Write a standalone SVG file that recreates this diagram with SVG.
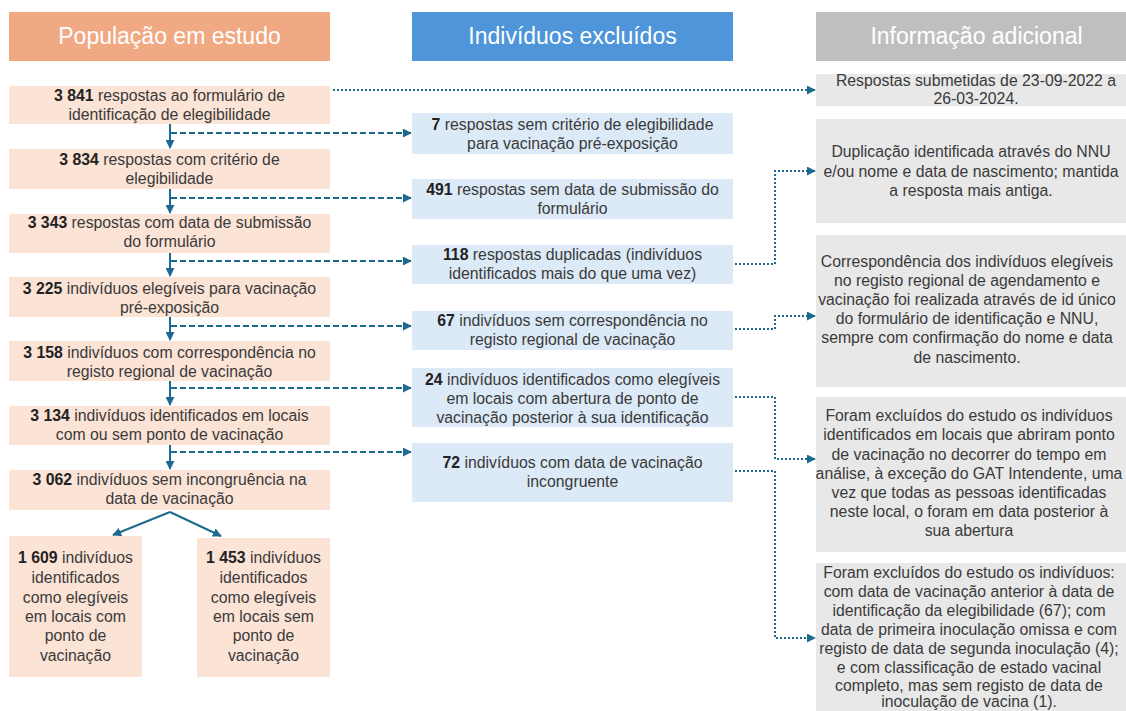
<svg xmlns="http://www.w3.org/2000/svg" width="1126" height="711" viewBox="0 0 1126 711">
<defs>
<style>
.hdr{font-family:"Liberation Sans",Arial,sans-serif;font-size:23px;fill:#ffffff;text-anchor:middle}
.t{font-family:"Liberation Sans",Arial,sans-serif;font-size:15.8px;fill:#3a3a3a;text-anchor:middle}
.b{font-weight:bold;fill:#222}
.pop{fill:#FBE3D6}
.exc{fill:#DCE9F6}
.inf{fill:#E8E8E8}
.solid{stroke:#1E6A8D;stroke-width:2;fill:none}
.dash{stroke:#1E6A8D;stroke-width:2;fill:none;stroke-dasharray:6 3}
.dot{stroke:#1E6A8D;stroke-width:2;fill:none;stroke-dasharray:2 2}
</style>
<marker id="ah" viewBox="0 0 10 10" refX="9" refY="5" markerWidth="9" markerHeight="9" markerUnits="userSpaceOnUse" orient="auto">
<path d="M0,0 L10,5 L0,10 z" fill="#1E6A8D"/>
</marker>
</defs>
<rect width="1126" height="711" fill="#ffffff"/>

<g id="hdr-pop"><rect x="9" y="12" width="321" height="49" fill="#F1A983"/><text class="hdr" x="169.5" y="44">População em estudo</text></g>
<g id="hdr-exc"><rect x="412" y="12" width="321" height="49" fill="#4E95D9"/><text class="hdr" x="572.5" y="44">Indivíduos excluídos</text></g>
<g id="hdr-inf"><rect x="816" y="12" width="321" height="49" fill="#BFBFBF"/><text class="hdr" x="976.5" y="44">Informação adicional</text></g>

<g id="p1"><rect class="pop" x="9" y="86" width="321" height="38"/><text class="t" x="169.5" y="101"><tspan class="b">3 841</tspan> respostas ao formulário de</text><text class="t" x="169.5" y="120">identificação de elegibilidade</text></g>
<g id="p2"><rect class="pop" x="9" y="149" width="321" height="40"/><text class="t" x="169.5" y="165"><tspan class="b">3 834</tspan> respostas com critério de</text><text class="t" x="169.5" y="184">elegibilidade</text></g>
<g id="p3"><rect class="pop" x="9" y="214" width="321" height="39"/><text class="t" x="169.5" y="228"><tspan class="b">3 343</tspan> respostas com data de submissão</text><text class="t" x="169.5" y="247">do formulário</text></g>
<g id="p4"><rect class="pop" x="9" y="277" width="321" height="40"/><text class="t" x="169.5" y="294"><tspan class="b">3 225</tspan> indivíduos elegíveis  para vacinação</text><text class="t" x="169.5" y="313">pré-exposição</text></g>
<g id="p5"><rect class="pop" x="9" y="341" width="321" height="40"/><text class="t" x="169.5" y="358"><tspan class="b">3 158</tspan> indivíduos com correspondência no</text><text class="t" x="169.5" y="377">registo regional de vacinação</text></g>
<g id="p6"><rect class="pop" x="9" y="406" width="321" height="39"/><text class="t" x="169.5" y="421"><tspan class="b">3 134</tspan> indivíduos identificados em locais</text><text class="t" x="169.5" y="440">com ou sem ponto de vacinação</text></g>
<g id="p7"><rect class="pop" x="9" y="470" width="321" height="40"/><text class="t" x="169.5" y="485"><tspan class="b">3 062</tspan> indivíduos sem incongruência na</text><text class="t" x="169.5" y="504">data de vacinação</text></g>
<g id="p8"><rect class="pop" x="9" y="536" width="133" height="141"/>
<text class="t" x="75.5" y="563"><tspan class="b">1 609</tspan> indivíduos</text><text class="t" x="75.5" y="583">identificados</text><text class="t" x="75.5" y="603">como elegíveis</text><text class="t" x="75.5" y="622">em locais com</text><text class="t" x="75.5" y="641">ponto de</text><text class="t" x="75.5" y="661">vacinação</text></g>
<g id="p9"><rect class="pop" x="197" y="538" width="133" height="139"/>
<text class="t" x="263.5" y="563"><tspan class="b">1 453</tspan> indivíduos</text><text class="t" x="263.5" y="583">identificados</text><text class="t" x="263.5" y="603">como elegíveis</text><text class="t" x="263.5" y="622">em locais sem</text><text class="t" x="263.5" y="641">ponto de</text><text class="t" x="263.5" y="661">vacinação</text></g>

<g id="e1"><rect class="exc" x="412" y="113" width="321" height="41"/><text class="t" x="572.5" y="130"><tspan class="b">7</tspan> respostas sem critério de elegibilidade</text><text class="t" x="572.5" y="149">para vacinação pré-exposição</text></g>
<g id="e2"><rect class="exc" x="412" y="179" width="321" height="40"/><text class="t" x="572.5" y="195"><tspan class="b">491</tspan> respostas sem data de submissão do</text><text class="t" x="572.5" y="214">formulário</text></g>
<g id="e3"><rect class="exc" x="412" y="245" width="321" height="39"/><text class="t" x="572.5" y="260"><tspan class="b">118</tspan> respostas duplicadas (indivíduos</text><text class="t" x="572.5" y="279">identificados mais do que uma vez)</text></g>
<g id="e4"><rect class="exc" x="412" y="311" width="321" height="39"/><text class="t" x="572.5" y="326"><tspan class="b">67</tspan> indivíduos sem correspondência no</text><text class="t" x="572.5" y="345">registo regional de vacinação</text></g>
<g id="e5"><rect class="exc" x="412" y="368" width="321" height="59"/><text class="t" x="572.5" y="385"><tspan class="b">24</tspan> indivíduos identificados como elegíveis</text><text class="t" x="572.5" y="404">em locais com abertura  de ponto de</text><text class="t" x="572.5" y="423">vacinação posterior à sua identificação</text></g>
<g id="e6"><rect class="exc" x="412" y="443" width="321" height="59"/><text class="t" x="572.5" y="468"><tspan class="b">72</tspan> indivíduos com data de vacinação</text><text class="t" x="572.5" y="487">incongruente</text></g>

<g id="i1"><rect class="inf" x="816" y="74" width="321" height="32"/><text class="t" x="976" y="86">Respostas submetidas de 23-09-2022 a</text><text class="t" x="976" y="104">26-03-2024.</text></g>
<g id="i2"><rect class="inf" x="816" y="119" width="321" height="104"/><text class="t" x="971" y="157">Duplicação identificada através do NNU</text><text class="t" x="971" y="177">e/ou nome e data de nascimento; mantida</text><text class="t" x="971" y="196">a resposta mais antiga.</text></g>
<g id="i3"><rect class="inf" x="816" y="235" width="321" height="152"/><text class="t" x="967" y="267">Correspondência dos indivíduos elegíveis</text><text class="t" x="967" y="286">no registo regional de agendamento e</text><text class="t" x="967" y="305">vacinação foi realizada através de id único</text><text class="t" x="967" y="324">do formulário de identificação e NNU,</text><text class="t" x="967" y="343">sempre com confirmação do nome e data</text><text class="t" x="967" y="363">de nascimento.</text></g>
<g id="i4"><rect class="inf" x="816" y="397" width="321" height="155"/><text class="t" x="969" y="421">Foram excluídos do estudo os indivíduos</text><text class="t" x="969" y="440">identificados em locais que abriram ponto</text><text class="t" x="969" y="460">de vacinação no decorrer do tempo em</text><text class="t" x="969" y="479">análise, à exceção do GAT Intendente, uma</text><text class="t" x="969" y="498">vez que todas as pessoas identificadas</text><text class="t" x="969" y="517">neste local, o foram em data posterior à</text><text class="t" x="969" y="536">sua abertura</text></g>
<g id="i5"><rect class="inf" x="816" y="563" width="321" height="160"/><text class="t" x="969" y="578">Foram excluídos do estudo os indivíduos:</text><text class="t" x="969" y="597">com data de vacinação anterior à data de</text><text class="t" x="969" y="616">identificação da elegibilidade (67); com</text><text class="t" x="969" y="635">data de primeira inoculação omissa e com</text><text class="t" x="969" y="654">registo de data de segunda inoculação (4);</text><text class="t" x="969" y="673">e com classificação de estado vacinal</text><text class="t" x="969" y="691">completo, mas sem registo de data de</text><text class="t" x="969" y="707">inoculação de vacina (1).</text></g>

<g id="connectors">
<path class="solid" d="M170,124 V148" marker-end="url(#ah)"/>
<path class="solid" d="M170,189 V213" marker-end="url(#ah)"/>
<path class="solid" d="M170,253 V276" marker-end="url(#ah)"/>
<path class="solid" d="M170,317 V340" marker-end="url(#ah)"/>
<path class="solid" d="M170,381 V405" marker-end="url(#ah)"/>
<path class="solid" d="M170,445 V469" marker-end="url(#ah)"/>
<path class="solid" d="M170,512 L113,535" marker-end="url(#ah)"/>
<path class="solid" d="M170,512 L221,536" marker-end="url(#ah)"/>
<path class="dash" d="M171,133 H411" marker-end="url(#ah)"/>
<path class="dash" d="M171,198 H411" marker-end="url(#ah)"/>
<path class="dash" d="M171,261 H411" marker-end="url(#ah)"/>
<path class="dash" d="M171,326 H411" marker-end="url(#ah)"/>
<path class="dash" d="M171,388 H411" marker-end="url(#ah)"/>
<path class="dash" d="M171,452 H411" marker-end="url(#ah)"/>
<path class="dot" d="M333,90 H815" marker-end="url(#ah)"/>
<path class="dot" d="M735,264 H775 V171 H815" marker-end="url(#ah)"/>
<path class="dot" d="M735,329 H775 V316 H815" marker-end="url(#ah)"/>
<path class="dot" d="M735,397 H775 V459 H815" marker-end="url(#ah)"/>
<path class="dot" d="M735,471 H775 V638 H815" marker-end="url(#ah)"/>
</g>
</svg>
